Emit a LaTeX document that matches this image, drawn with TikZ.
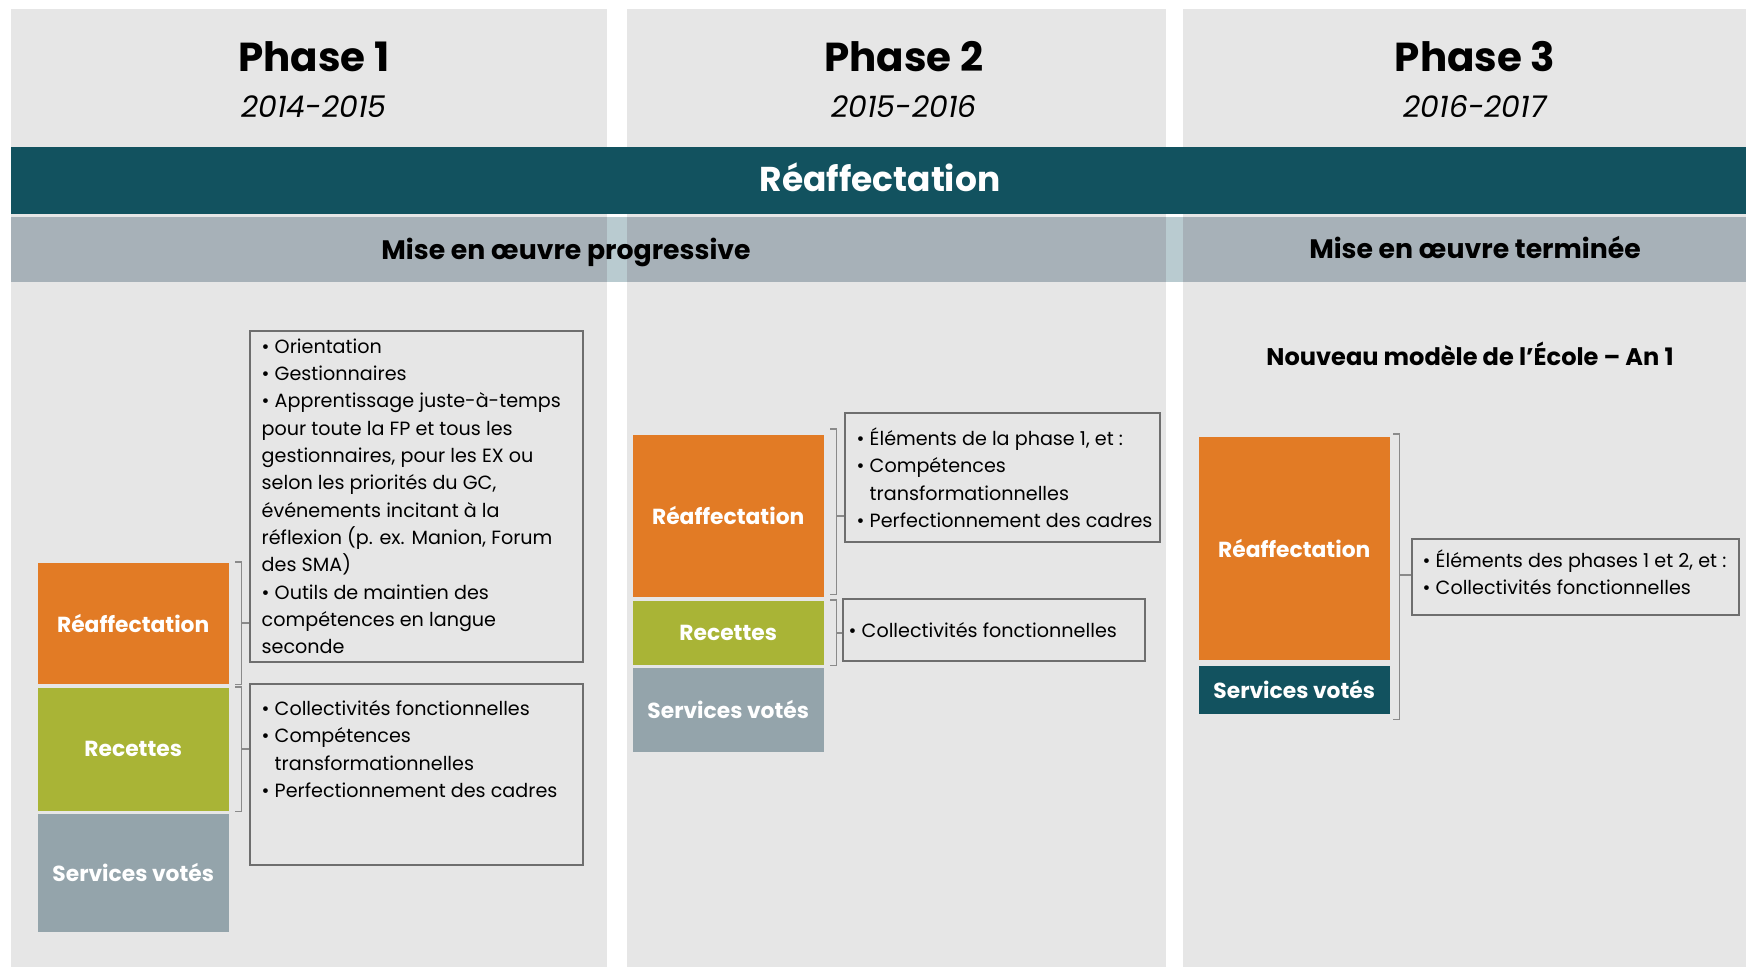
\documentclass[tikz,border=0pt]{standalone}
\usepackage{fontspec}
\setmainfont{Poppins}
\usetikzlibrary{positioning,calc}
\definecolor{colbg}{HTML}{E6E6E6}
\definecolor{tealc}{HTML}{12525F}
\definecolor{bandc}{HTML}{A7B1B8}
\definecolor{gapc}{HTML}{B9CBD0}
\definecolor{orngc}{HTML}{E27B25}
\definecolor{grnc}{HTML}{A9B436}
\definecolor{gryc}{HTML}{94A4AB}
\definecolor{framec}{HTML}{6E6E6E}
\definecolor{brc}{HTML}{8A8A8A}
\tikzstyle{hd}=[font=\fontsize{11.5}{13}\selectfont\bfseries]
\tikzstyle{yr}=[font=\fontsize{8.5}{10}\selectfont\itshape]
\tikzstyle{bnd}=[font=\fontsize{7.6}{9}\selectfont\bfseries]
\tikzstyle{cb}=[anchor=north west,minimum width=19.1mm,inner sep=0pt,text=white,font=\fontsize{6.2}{7}\selectfont\bfseries]
\tikzstyle{fr}=[anchor=north west,draw=framec,line width=0.6pt,inner sep=0pt]
\tikzstyle{tx}=[align=left,inner sep=0pt,font=\fontsize{5.45}{7.77}\selectfont]
\tikzstyle{br}=[draw=brc,line width=0.5pt]

\begin{document}
\begin{tikzpicture}[x=0.1mm,y=-0.1mm]
            \useasboundingbox (0,0) rectangle (1746,967);
            \fill[white] (0,0) rectangle (1746,967);
            \fill[colbg] (11,9) rectangle (607,967);
            \fill[colbg] (627,9) rectangle (1166,967);
            \fill[colbg] (1183,9) rectangle (1746,967);
            \fill[tealc] (11,147) rectangle (1746,214);
            \fill[bandc] (11,217) rectangle (1746,282);
            \fill[gapc] (607,217) rectangle (627,282);
            \fill[gapc] (1166,217) rectangle (1183,282);

            \node[hd] (P1) at (314,57) {Phase 1};
            \node[yr] (Y1) at (314,107) {2014-2015};
            \node[hd] (P2) at (904,57) {Phase 2};
            \node[yr] (Y2) at (904,107) {2015-2016};
            \node[hd] (P3) at (1475,57) {Phase 3};
            \node[yr] (Y3) at (1475,107) {2016-2017};
            \node[hd,text=white,font=\fontsize{9.8}{11}\selectfont\bfseries] (R) at (880,177) {Réaffectation};
            \node[bnd] (M1) at (566,252) {Mise en œuvre progressive};
            \node[bnd] (M2) at (1475,247) {Mise en œuvre terminée};
            \node[bnd,font=\fontsize{6.85}{8}\selectfont\bfseries] (N) at (1470,354) {Nouveau modèle de l’École – An 1};

            \node[cb,fill=orngc,minimum height=12.1mm] (A1) at (37,562) {Réaffectation};
            \node[cb,fill=grnc,minimum height=12.3mm] (A2) at (37,687) {Recettes};
            \node[cb,fill=gryc,minimum height=11.8mm] (A3) at (37,813) {Services votés};
            \node[cb,fill=orngc,minimum height=16.2mm] (B1) at (632,434) {Réaffectation};
            \node[cb,fill=grnc,minimum height=6.4mm] (B2) at (632,600) {Recettes};
            \node[cb,fill=gryc,minimum height=8.4mm] (B3) at (632,667) {Services votés};
            \node[cb,fill=orngc,minimum height=22.3mm] (C1) at (1198,436) {Réaffectation};
            \node[cb,fill=tealc,minimum height=4.8mm] (C2) at (1198,665) {Services votés};

            \node[fr,minimum width=33.3mm,minimum height=33.1mm] (T1) at (249,330) {};
            \node[tx,anchor=north west] (t1) at ([shift={(12,8)}]T1.north west) {%
                • Orientation\\
                • Gestionnaires\\
                • Apprentissage juste-à-temps\\
                pour toute la FP et tous les\\
                gestionnaires, pour les EX ou\\
                selon les priorités du GC,\\
                événements incitant à la\\
                réflexion (p. ex. Manion, Forum\\
                des SMA)\\
                • Outils de maintien des\\
                compétences en langue\\
                seconde};
            \node[fr,minimum width=33.3mm,minimum height=18.1mm] (T2) at (249,683) {};
            \node[tx,anchor=north west] (t2) at ([shift={(12,17)}]T2.north west) {%
                • Collectivités fonctionnelles\\
                • Compétences\\
                \phantom{• }transformationnelles\\
                • Perfectionnement des cadres};
            \node[fr,minimum width=31.5mm,minimum height=12.9mm] (T3) at (844,412) {};
            \node[tx,anchor=north west] (t3) at ([shift={(12,15)}]T3.north west) {%
                • Éléments de la phase 1, et :\\
                • Compétences\\
                \phantom{• }transformationnelles\\
                • Perfectionnement des cadres};
            \node[fr,minimum width=30.2mm,minimum height=6.2mm] (T4) at (842,598) {};
            \node[tx,anchor=west] (t4) at ([shift={(6,0)}]T4.west) {• Collectivités fonctionnelles};
            \node[fr,minimum width=32.7mm,minimum height=7.6mm] (T5) at (1411,538) {};
            \node[tx,anchor=west] (t5) at ([shift={(11,-5)}]T5.west) {%
                • Éléments des phases 1 et 2, et :\\
                • Collectivités fonctionnelles};

            \draw[br] ([shift={(6,0)}]A1.north east) -- ++(6,0) -- ([shift={(12,0)}]A1.south east) -- ++(-6,0);
            \draw[br] ([shift={(12,0)}]A1.east) -- (A1.east -| T1.west);
            \draw[br] ([shift={(6,0)}]A2.north east) -- ++(6,0) -- ([shift={(12,0)}]A2.south east) -- ++(-6,0);
            \draw[br] ([shift={(12,0)}]A2.east) -- (A2.east -| T2.west);
            \draw[br] ([shift={(6,-5)}]B1.north east) -- ++(6,0) -- ([shift={(12,-3)}]B1.south east) -- ++(-6,0);
            \draw[br] ([shift={(12,0)}]B1.east) -- (B1.east -| T3.west);
            \draw[br] ([shift={(6,0)}]B2.north east) -- ++(6,0) -- ([shift={(12,0)}]B2.south east) -- ++(-6,0);
            \draw[br] ([shift={(12,0)}]B2.east) -- (B2.east -| T4.west);
            \coordinate (m) at ($(C1.north east)!.5!(C2.south east)$);
            \draw[br] ([shift={(3,-2)}]C1.north east) -- ++(6,0) -- ([shift={(9,5)}]C2.south east) -- ++(-6,0);
            \draw[br] ([shift={(9,0)}]m) -- (m -| T5.west);
        \end{tikzpicture}
\end{document}
